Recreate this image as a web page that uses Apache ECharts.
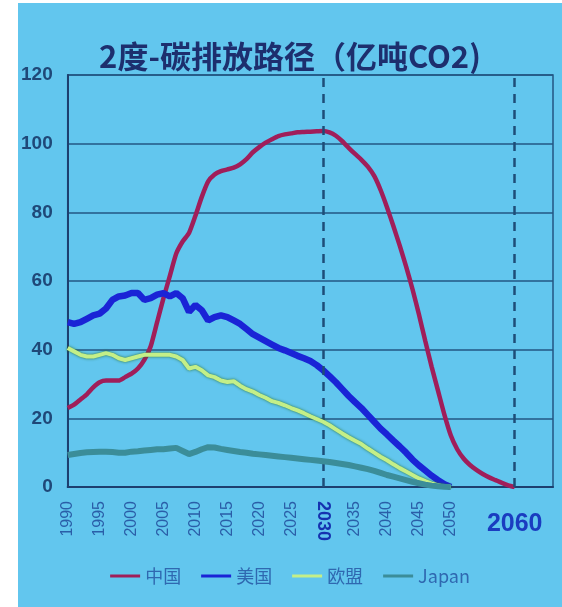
<!DOCTYPE html>
<html>
<head>
<meta charset="utf-8">
<script src="https://cdn.jsdelivr.net/npm/echarts@6/dist/echarts.min.js"></script>
<style>
  html, body { margin: 0; padding: 0; background: #ffffff; }
  #chart { position: absolute; left: 18px; top: 3px; width: 544px; height: 604px; background: #62c6ee; }
</style>
</head>
<body>
<div id="chart"></div>
<script>
// Emission pathways under the 2-degree scenario (100 million tonnes CO2)
const startYear = 1990;
const xTickLabels = ['1990','1995','2000','2005','2010','2015','2020','2025','2035','2040','2045','2050'];
const highlightYear = '2030';
const targetYear = '2060';
const yTicks = [0, 20, 40, 60, 80, 100, 120];
const seriesNames = ['中国', '美国', '欧盟', 'Japan'];

const china = [
  23, 24, 25.5, 27, 29, 30.5, 31, 31, 31, 32,
  33, 34.5, 37, 41, 48, 55, 61.5, 68, 71.5, 74,
  79, 84.5, 89, 91, 92, 92.5, 93, 94, 95.5, 97.5,
  99, 100.3, 101.3, 102.2, 102.7, 103, 103.3, 103.4, 103.5, 103.6,
  103.7, 103.3, 102.3, 100.7, 98.8, 97, 95.3, 93.3, 90.6, 86.5,
  81.5, 76, 70.3, 64.2, 57.6, 50.3, 42.5, 35, 28, 21,
  15, 11, 8.3, 6.4, 5, 3.8, 2.8, 2, 1.2, 0.5,
  0
];
const usa = [
  48, 47.5, 48, 49, 50, 50.5, 52, 54.5, 55.5, 55.8,
  56.5, 56.5, 54.5, 55, 56, 56.5, 55.5, 56.5, 55, 51,
  53, 51.5, 48.5, 49.5, 50, 49.5, 48.5, 47.5, 46, 44.5,
  43.5, 42.5, 41.5, 40.5, 39.8, 39, 38.2, 37.5, 36.7, 35.5,
  34, 32.3, 30.5, 28.5, 26.5, 24.7, 23, 21, 19, 17,
  15.3, 13.5, 11.8, 10, 8, 6.3, 4.8, 3.3, 2, 0.8,
  0
];
const eu = [
  40.5, 39.5, 38.5, 38, 38, 38.5, 39, 38.5, 37.5, 37,
  37.5, 38, 38.5, 38.5, 38.5, 38.5, 38.5, 38, 37, 34.5,
  35, 34, 32.5, 32, 31, 30.6, 30.8, 29.5, 28.5, 27.8,
  26.8, 26, 25, 24.5, 23.8, 23, 22.3, 21.5, 20.6, 19.8,
  19, 18, 16.8, 15.6, 14.5, 13.5, 12.5, 11.2, 10, 8.8,
  7.8, 6.6, 5.5, 4.5, 3.5, 2.5, 1.7, 1, 0.5, 0.1,
  0
];
const japan = [
  9.3, 9.6, 9.9, 10.1, 10.2, 10.3, 10.3, 10.2, 10, 10,
  10.3, 10.4, 10.6, 10.8, 11, 11, 11.2, 11.4, 10.5, 9.6,
  10.2, 11, 11.6, 11.5, 11.1, 10.8, 10.5, 10.2, 10, 9.7,
  9.5, 9.3, 9.1, 8.9, 8.7, 8.5, 8.3, 8.1, 7.9, 7.7,
  7.5, 7.3, 7, 6.7, 6.4, 6, 5.6, 5.2, 4.7, 4.1,
  3.5, 3, 2.5, 2, 1.5, 1.1, 0.7, 0.4, 0.2, 0.05,
  0
];

const colors = ['#a01e5a', '#1a24d6', '#c4ef88', '#3b8d99'];
const widths = [4.5, 6.5, 4, 6];
const smoothing = [0.2, 0, 0, 0];

function pairs(values) {
  return values.map((v, i) => [startYear + i, v]);
}

const chart = echarts.init(document.getElementById('chart'), null, { renderer: 'canvas' });

const xCommon = {
  type: 'value',
  min: 1990,
  max: 2066,
  interval: 5,
  position: 'bottom',
  splitLine: { show: false },
  axisTick: { show: false }
};

const seriesData = [china, usa, eu, japan];

const series = seriesData.map((vals, i) => {
  const s = {
    name: seriesNames[i],
    type: 'line',
    data: pairs(vals),
    showSymbol: false,
    symbol: 'none',
    smooth: smoothing[i],
    lineStyle: { color: colors[i], width: widths[i] },
    itemStyle: { color: colors[i] },
    z: 3 + i
  };
  if (i === 2) {
    s.lineStyle.shadowColor = 'rgba(40,110,40,0.9)';
    s.lineStyle.shadowBlur = 3;
  }
  if (i === 0) {
    s.markLine = {
      silent: true,
      symbol: 'none',
      label: { show: false },
      lineStyle: { color: '#1e4d78', width: 2.5, type: [9, 7] },
      data: [{ xAxis: Number(highlightYear) }, { xAxis: Number(targetYear) }]
    };
  }
  return s;
});

chart.setOption({
  animation: false,
  title: {
    text: '2度-碳排放路径（亿吨CO2)',
    left: 'center',
    top: 33,
    textStyle: {
      fontFamily: 'Noto Sans CJK SC',
      fontWeight: 'bold',
      fontSize: 31,
      color: '#1d2f6e'
    }
  },
  legend: {
    bottom: 17,
    left: 'center',
    itemWidth: 30,
    itemHeight: 3,
    itemGap: 20,
    icon: 'rect',
    data: seriesNames,
    textStyle: { fontFamily: 'Noto Sans CJK SC', fontSize: 18, color: '#2f68b0' }
  },
  grid: {
    left: 49,
    right: 9,
    top: 72,
    bottom: 120,
    show: true,
    borderColor: '#235683',
    borderWidth: 1.5,
    backgroundColor: 'transparent'
  },
  xAxis: [
    Object.assign({}, xCommon, {
      axisLine: { show: true, lineStyle: { color: '#1d3f6f', width: 2 } },
      axisLabel: {
        rotate: 90,
        margin: 14,
        fontFamily: 'Liberation Sans',
        fontSize: 16,
        color: '#2a5ea8',
        formatter: v => xTickLabels.includes(String(v)) ? String(v) : '',
        showMinLabel: true,
        showMaxLabel: false
      }
    }),
    Object.assign({}, xCommon, {
      axisLine: { show: false },
      axisLabel: {
        rotate: -90,
        margin: 14,
        fontFamily: 'Liberation Sans',
        fontSize: 18,
        fontWeight: 'bold',
        color: '#1533b0',
        formatter: v => String(v) === highlightYear ? highlightYear : '',
        showMaxLabel: false
      }
    }),
    Object.assign({}, xCommon, {
      axisLine: { show: false },
      axisLabel: {
        rotate: 0,
        margin: 25,
        fontFamily: 'Liberation Sans',
        fontSize: 25,
        fontWeight: 'bold',
        color: '#1a3cc0',
        formatter: v => String(v) === targetYear ? targetYear : '',
        showMaxLabel: false
      }
    })
  ],
  yAxis: {
    type: 'value',
    min: yTicks[0],
    max: yTicks[yTicks.length - 1],
    interval: yTicks[1] - yTicks[0],
    axisLine: { show: true, lineStyle: { color: '#1d3f6f', width: 2 } },
    axisTick: { show: false },
    axisLabel: {
      margin: 15,
      fontFamily: 'Liberation Sans',
      fontSize: 19,
      fontWeight: 'bold',
      color: '#1f4878'
    },
    splitLine: { show: true, lineStyle: { color: '#235683', width: 1.5 } }
  },
  series: series
});
</script>
</body>
</html>
